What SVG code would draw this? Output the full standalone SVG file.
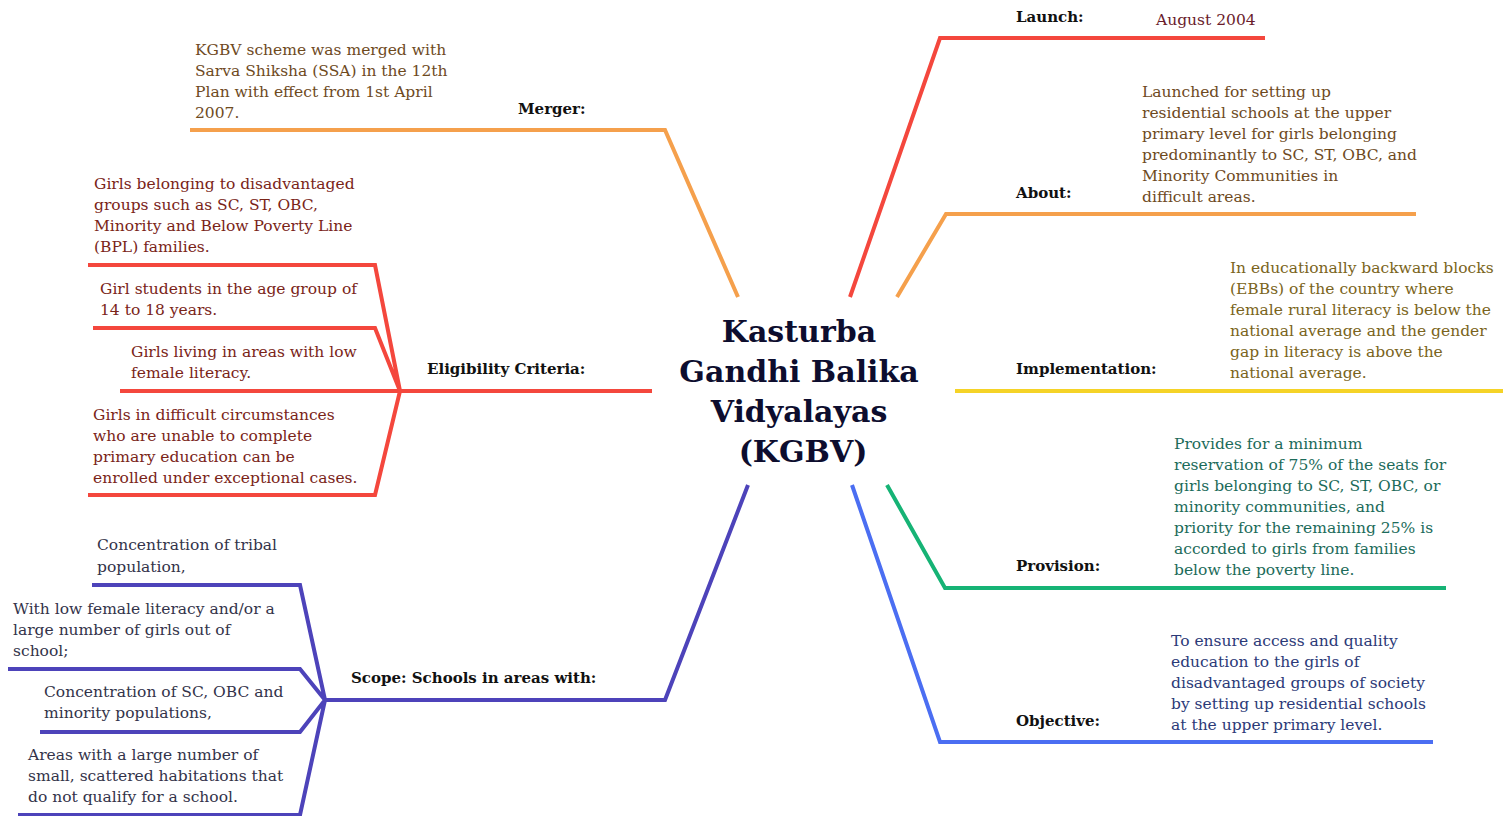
<svg xmlns="http://www.w3.org/2000/svg" width="1512" height="816" viewBox="0 0 1512 816">
<style>
.t{font-family:"DejaVu Serif","Liberation Serif",serif;font-size:15.5px}
.lb{font-family:"DejaVu Serif","Liberation Serif",serif;font-size:15px;font-weight:bold;fill:#111}
.ln{fill:none;stroke-width:4;stroke-linejoin:miter}
.title{font-family:"DejaVu Serif",serif;font-size:30px;font-weight:bold;fill:#0d0d2e;text-anchor:middle}
</style>
<rect width="1512" height="816" fill="#fff"/>
<g id="connectors">
<path class="ln" stroke="#f4473d" d="M850 297 L940 38 L1265 38"/>
<path class="ln" stroke="#f5a04c" d="M738 297 L665 130 L190 130"/>
<path class="ln" stroke="#f5a04c" d="M897 297 L946 214 L1416 214"/>
<path class="ln" stroke="#f5d327" d="M955 391 L1503 391"/>
<path class="ln" stroke="#f4473d" d="M652 391 L120 391 M400 391 L375 265 L88 265 M400 391 L375 328 L93 328 M400 391 L375 495 L88 495"/>
<path class="ln" stroke="#16b375" d="M887 485 L945 588 L1446 588"/>
<path class="ln" stroke="#4b6ef2" d="M852 485 L940 742 L1433 742"/>
<path class="ln" stroke="#4d43ba" d="M748 485 L665 700 L325 700 M325 700 L300 585 L92 585 M325 700 L300 669 L8 669 M325 700 L300 732 L40 732 M325 700 L300 815 L18 815"/>
</g>
<g id="center">
<text class="title"><tspan x="799" y="342">Kasturba</tspan><tspan x="799" y="382">Gandhi Balika</tspan><tspan x="799" y="422">Vidyalayas</tspan><tspan x="803" y="462">(KGBV)</tspan></text>
</g>
<g id="launch">
<text class="lb" x="1016" y="22">Launch:</text>
<text class="t" x="1156" y="25" fill="#6a1c2c">August 2004</text>
</g>
<g id="merger">
<text class="lb" x="518" y="114">Merger:</text>
<text class="t" fill="#6e4a1e"><tspan x="195" y="55">KGBV scheme was merged with</tspan><tspan x="195" y="76">Sarva Shiksha (SSA) in the 12th</tspan><tspan x="195" y="97">Plan with effect from 1st April</tspan><tspan x="195" y="118">2007.</tspan></text>
</g>
<g id="about">
<text class="lb" x="1016" y="198">About:</text>
<text class="t" fill="#6e4a1e"><tspan x="1142" y="97">Launched for setting up</tspan><tspan x="1142" y="118">residential schools at the upper</tspan><tspan x="1142" y="139">primary level for girls belonging</tspan><tspan x="1142" y="160">predominantly to SC, ST, OBC, and</tspan><tspan x="1142" y="181">Minority Communities in</tspan><tspan x="1142" y="202">difficult areas.</tspan></text>
</g>
<g id="implementation">
<text class="lb" x="1016" y="374">Implementation:</text>
<text class="t" fill="#7a6420"><tspan x="1230" y="273">In educationally backward blocks</tspan><tspan x="1230" y="294">(EBBs) of the country where</tspan><tspan x="1230" y="315">female rural literacy is below the</tspan><tspan x="1230" y="336">national average and the gender</tspan><tspan x="1230" y="357">gap in literacy is above the</tspan><tspan x="1230" y="378">national average.</tspan></text>
</g>
<g id="provision">
<text class="lb" x="1016" y="571">Provision:</text>
<text class="t" fill="#1c6b5a"><tspan x="1174" y="449">Provides for a minimum</tspan><tspan x="1174" y="470">reservation of 75% of the seats for</tspan><tspan x="1174" y="491">girls belonging to SC, ST, OBC, or</tspan><tspan x="1174" y="512">minority communities, and</tspan><tspan x="1174" y="533">priority for the remaining 25% is</tspan><tspan x="1174" y="554">accorded to girls from families</tspan><tspan x="1174" y="575">below the poverty line.</tspan></text>
</g>
<g id="objective">
<text class="lb" x="1016" y="726">Objective:</text>
<text class="t" fill="#2c3a78"><tspan x="1171" y="646">To ensure access and quality</tspan><tspan x="1171" y="667">education to the girls of</tspan><tspan x="1171" y="688">disadvantaged groups of society</tspan><tspan x="1171" y="709">by setting up residential schools</tspan><tspan x="1171" y="730">at the upper primary level.</tspan></text>
</g>
<g id="eligibility">
<text class="lb" x="427" y="374">Eligibility Criteria:</text>
<text class="t" fill="#7a2418"><tspan x="94" y="189">Girls belonging to disadvantaged</tspan><tspan x="94" y="210">groups such as SC, ST, OBC,</tspan><tspan x="94" y="231">Minority and Below Poverty Line</tspan><tspan x="94" y="252">(BPL) families.</tspan></text>
<text class="t" fill="#7a2418"><tspan x="100" y="294">Girl students in the age group of</tspan><tspan x="100" y="315">14 to 18 years.</tspan></text>
<text class="t" fill="#7a2418"><tspan x="131" y="357">Girls living in areas with low</tspan><tspan x="131" y="378">female literacy.</tspan></text>
<text class="t" fill="#7a2418"><tspan x="93" y="420">Girls in difficult circumstances</tspan><tspan x="93" y="441">who are unable to complete</tspan><tspan x="93" y="462">primary education can be</tspan><tspan x="93" y="483">enrolled under exceptional cases.</tspan></text>
</g>
<g id="scope">
<text class="lb" x="351" y="683">Scope: Schools in areas with:</text>
<text class="t" fill="#33334a"><tspan x="97" y="550">Concentration of tribal</tspan><tspan x="97" y="572">population,</tspan></text>
<text class="t" fill="#33334a"><tspan x="13" y="614">With low female literacy and/or a</tspan><tspan x="13" y="635">large number of girls out of</tspan><tspan x="13" y="656">school;</tspan></text>
<text class="t" fill="#33334a"><tspan x="44" y="697">Concentration of SC, OBC and</tspan><tspan x="44" y="718">minority populations,</tspan></text>
<text class="t" fill="#33334a"><tspan x="28" y="760">Areas with a large number of</tspan><tspan x="28" y="781">small, scattered habitations that</tspan><tspan x="28" y="802">do not qualify for a school.</tspan></text>
</g>
</svg>
